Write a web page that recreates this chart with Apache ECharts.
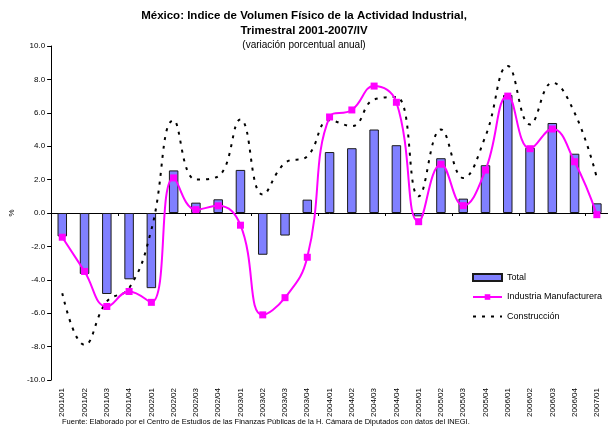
<!DOCTYPE html>
<html>
<head>
<meta charset="utf-8">
<script src="https://cdn.jsdelivr.net/npm/echarts@6/dist/echarts.min.js"></script>
<style>
  html, body { margin: 0; padding: 0; background: #fff; }
  #chart { width: 608px; height: 427px; }
</style>
</head>
<body>
<div id="chart"></div>
<script>
// trimestres
const quarters = [
  '2001/01', '2001/02', '2001/03', '2001/04',
  '2002/01', '2002/02', '2002/03', '2002/04',
  '2003/01', '2003/02', '2003/03', '2003/04',
  '2004/01', '2004/02', '2004/03', '2004/04',
  '2005/01', '2005/02', '2005/03', '2005/04',
  '2006/01', '2006/02', '2006/03', '2006/04',
  '2007/01'
];

// variación porcentual anual
const total = [
  -1.4, -3.65, -4.85, -3.97, -4.5, 2.55, 0.62, 0.82, 2.58, -2.5, -1.35, 0.8,
  3.65, 3.88, 5.0, 4.06, -0.2, 3.28, 0.86, 2.86, 7.07, 3.91, 5.39, 3.55, 0.58
];
const manufacturera = [
  -1.45, -3.5, -5.6, -4.7, -5.35, 2.1, 0.2, 0.43, -0.73, -6.1, -5.07, -2.65,
  5.75, 6.17, 7.6, 6.63, -0.52, 2.92, 0.44, 2.57, 7.0, 3.85, 5.03, 3.07, -0.1
];
const construccion = [
  -4.8, -7.9, -5.3, -4.5, -1.0, 5.55, 2.0, 2.2, 5.6, 1.1, 3.0, 3.4,
  5.55, 5.2, 6.8, 6.95, 1.0, 5.0, 2.1, 4.6, 8.8, 5.3, 7.8, 6.0, 2.1
];

const FONT = 'Liberation Sans';
const TEXT = '#000';

const chart = echarts.init(document.getElementById('chart'), null, { renderer: 'canvas' });

chart.setOption({
  backgroundColor: '#fff',
  animation: false,
  title: [
    {
      text: 'México: Indice de Volumen Físico de la Actividad Industrial,',
      left: 'center',
      top: 10,
      padding: 0,
      textStyle: { fontFamily: FONT, fontSize: 11.5, fontWeight: 'bold', color: TEXT }
    },
    {
      text: 'Trimestral 2001-2007/IV',
      left: 'center',
      top: 25,
      padding: 0,
      textStyle: { fontFamily: FONT, fontSize: 11.5, fontWeight: 'bold', color: TEXT }
    },
    {
      text: '(variación porcentual anual)',
      left: 'center',
      top: 40,
      padding: 0,
      textStyle: { fontFamily: FONT, fontSize: 10, fontWeight: 'normal', color: TEXT }
    },
    {
      text: 'Fuente: Elaborado por el Centro de Estudios de las Finanzas Públicas de la H. Cámara de Diputados con datos del INEGI.',
      left: 62,
      top: 418,
      padding: 0,
      textStyle: { fontFamily: FONT, fontSize: 7.5, fontWeight: 'normal', color: TEXT }
    }
  ],
  legend: {
    orient: 'vertical',
    left: 472,
    top: 273,
    itemWidth: 29,
    itemHeight: 7,
    itemGap: 10.5,
    padding: 0,
    textStyle: { fontFamily: FONT, fontSize: 9, color: TEXT },
    data: [
      { name: 'Total', icon: 'rect' },
      { name: 'Industria Manufacturera' },
      { name: 'Construcción', itemStyle: { opacity: 0 } }
    ]
  },
  grid: { left: 51, top: 46, width: 557, height: 334, containLabel: false },
  xAxis: [
    {
      type: 'category',
      data: quarters,
      position: 'bottom',
      boundaryGap: true,
      axisLine: { onZero: true, lineStyle: { color: '#000', width: 1 } },
      axisTick: { show: true, length: 3, inside: false, lineStyle: { color: '#000' } },
      axisLabel: { show: false },
      splitLine: { show: false }
    },
    {
      type: 'category',
      data: quarters,
      position: 'bottom',
      boundaryGap: true,
      axisLine: { show: false, onZero: false },
      axisTick: { show: false },
      axisLabel: {
        show: true,
        rotate: 90,
        margin: 8,
        interval: 0,
        fontFamily: FONT,
        fontSize: 8,
        color: TEXT
      },
      splitLine: { show: false }
    }
  ],
  yAxis: {
    type: 'value',
    min: -10,
    max: 10,
    interval: 2,
    name: '%',
    nameLocation: 'middle',
    nameGap: 31,
    nameRotate: 90,
    nameTextStyle: { fontFamily: FONT, fontSize: 8, color: TEXT },
    axisLine: { show: true, lineStyle: { color: '#000', width: 1 } },
    axisTick: { show: true, length: 4, lineStyle: { color: '#000' } },
    axisLabel: {
      margin: 6,
      fontFamily: FONT,
      fontSize: 8,
      color: TEXT,
      formatter: (v) => v.toFixed(1)
    },
    splitLine: { show: false }
  },
  series: [
    {
      name: 'Total',
      type: 'bar',
      xAxisIndex: 0,
      data: total,
      barWidth: 9.5,
      itemStyle: { color: '#8080FF', borderColor: '#1a1a1a', borderWidth: 1 },
      z: 2
    },
    {
      name: 'Industria Manufacturera',
      type: 'line',
      xAxisIndex: 0,
      data: manufacturera,
      smooth: 0.45,
      symbol: 'rect',
      symbolSize: 7,
      itemStyle: { color: '#FF00FF' },
      lineStyle: { color: '#FF00FF', width: 2 },
      z: 4
    },
    {
      name: 'Construcción',
      type: 'line',
      xAxisIndex: 0,
      data: construccion,
      smooth: 0.45,
      symbol: 'none',
      itemStyle: { color: '#000' },
      lineStyle: { color: '#000', width: 2, type: [3, 6] },
      z: 3
    }
  ]
});
</script>
</body>
</html>
